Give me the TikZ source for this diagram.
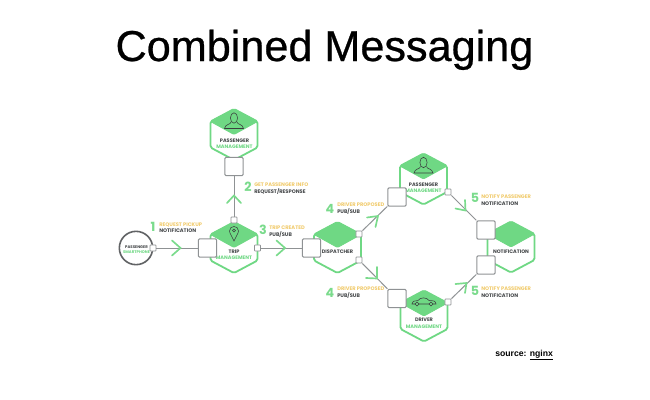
\documentclass[tikz,border=0pt]{standalone}
\usepackage{fontspec}
\setmainfont{Liberation Sans}
\newfontfamily\lblfont{Poppins}[BoldFont=Poppins Bold]
\newfontfamily\titlefont{Liberation Sans}[FakeBold=0.6]
\definecolor{hexgreen}{HTML}{6FD884}
\definecolor{chevgreen}{HTML}{7ADB8C}
\definecolor{lblorange}{HTML}{F1CB6C}
\definecolor{lbldark}{HTML}{45484A}
\definecolor{boxgray}{HTML}{8F9294}
\tikzset{
  x=0.75pt,y=-0.75pt,
  boxnode/.style={draw=boxgray,line width=0.75pt,fill=white,rounded corners=1pt,minimum size=13.8pt,inner sep=0pt},
  portnode/.style={draw=boxgray,line width=0.6pt,fill=white,rounded corners=0.6pt,minimum size=4.6pt,inner sep=0pt},
  link/.style={draw=boxgray,line width=0.75pt},
  chev/.style={draw=chevgreen,line width=1.25pt,line cap=round,line join=miter},
  hexline/.style={draw=hexgreen,line width=1.35pt,fill=white,rounded corners=1.3pt,line join=round},
  hexcap/.style={draw=hexgreen,fill=hexgreen,line width=0.6pt,rounded corners=1pt,line join=round},
  icon/.style={draw=lbldark!85!black,line width=0.4pt},
  orangetxt/.style={text=lblorange,font=\lblfont\bfseries\fontsize{3.85}{4}\selectfont,anchor=west,inner sep=0pt},
  darktxt/.style={text=lbldark,font=\lblfont\bfseries\fontsize{3.85}{4}\selectfont,anchor=west,inner sep=0pt},
  hexname/.style={text=lbldark,font=\lblfont\bfseries\fontsize{3.75}{4}\selectfont,inner sep=0pt},
  hexsub/.style={text=hexgreen,font=\lblfont\bfseries\fontsize{3.75}{4}\selectfont,inner sep=0pt},
  digit/.style={text=chevgreen,font=\lblfont\bfseries\fontsize{9.5}{10}\selectfont,inner sep=0pt},
}
\newcommand{\hexa}[2]{%
  \coordinate (#1) at #2;
  \begin{scope}[shift={(#1)}]
    \path[hexline] (0,-25.5) -- (23.5,-13) -- (23.5,13) -- (0,25.5) -- (-23.5,13) -- (-23.5,-13) -- cycle;
    \path[hexcap] (0,-25.5) -- (23.5,-13) -- (0,0) -- (-23.5,-13) -- cycle;
  \end{scope}}
\newcommand{\personicon}[1]{%
  \begin{scope}[shift={(#1)}]
    \draw[icon] (0,-16.5) ellipse (3.6 and 5.2);
    \draw[icon] (-3,-12.5) .. controls (-3,-10) and (-9,-10.5) .. (-9.5,-6) -- (9.5,-6) .. controls (9,-10.5) and (3,-10) .. (3,-12.5);
  \end{scope}}
\begin{document}
\begin{tikzpicture}
\useasboundingbox[fill=white] (0,0) rectangle (650,400);

\node[anchor=base,inner sep=0pt,font=\titlefont\fontsize{32.4}{36}\selectfont,text=black] (title) at (324.5,61) {Combined Messaging};

% services
\hexa{hexpass}{(234,134.5)}
\personicon{hexpass}
\node[hexname] (passname) at (234.5,141) {PASSENGER};
\node[hexsub] (passsub) at (234.5,147) {MANAGEMENT};

\hexa{hextrip}{(234,247.5)}
\node[hexname] (tripname) at (234,252) {TRIP};
\node[hexsub] (tripsub) at (234,258) {MANAGEMENT};
\begin{scope}[shift={(234,233)}]
  \draw[icon] (0,8) .. controls (-2,3.5) and (-4.5,0) .. (-4.5,-2) .. controls (-4.5,-8) and (4.5,-8) .. (4.5,-2) .. controls (4.5,0) and (2,3.5) .. (0,8) -- cycle;
  \draw[icon] (0,-2.5) circle (1.5);
\end{scope}

\hexa{hexdisp}{(337.5,247.5)}
\node[hexname] (dispname) at (337.5,252) {DISPATCHER};

\hexa{hexpass2}{(423.5,179)}
\personicon{hexpass2}
\node[hexname] (pass2name) at (423.5,184.5) {PASSENGER};
\node[hexsub] (pass2sub) at (423.5,191) {MANAGEMENT};

\hexa{hexdriver}{(424,316)}
\node[hexname] (drivername) at (424,320) {DRIVER};
\node[hexsub] (driversub) at (424,326.5) {MANAGEMENT};
\begin{scope}[shift={(424,301)}]
  \draw[icon] (-12,3) .. controls (-12,0) and (-8,-0.5) .. (-6,-0.5) .. controls (-4,-4) and (3,-4) .. (5,-0.5) .. controls (9,-0.5) and (12,0) .. (12,3) -- cycle;
  \draw[icon,fill=hexgreen] (-7,3) circle (1.9);
  \draw[icon,fill=hexgreen] (7,3) circle (1.9);
\end{scope}

\hexa{hexnotif}{(511,247)}
\node[hexname] (notifname) at (511,252) {NOTIFICATION};

% smartphone
\node[draw=lbldark!85,line width=1.2pt,circle,minimum size=25pt,inner sep=0pt,fill=white] (phone) at (136,248) {};
\node[hexname,font=\lblfont\bfseries\fontsize{2.9}{3}\selectfont] (phonename) at (136.5,247) {PASSENGER};
\node[hexsub,font=\lblfont\bfseries\fontsize{2.9}{3}\selectfont] (phonesub) at (136.5,252.5) {SMARTPHONE};

% boxes
\node[boxnode] (bpass) at (234,166.5) {};
\node[boxnode] (btrip) at (207.5,248) {};
\node[boxnode] (bdisp) at (311.5,248) {};
\node[boxnode] (bpass2) at (397,197) {};
\node[boxnode] (bdriver) at (397,298.5) {};
\node[boxnode] (bnotif1) at (486,230) {};
\node[boxnode] (bnotif2) at (486,265) {};

% ports
\node[portnode] (pphone) at (153,248) {};
\node[portnode] (ptrip1) at (234,220) {};
\node[portnode] (ptrip2) at (257.5,248) {};
\node[portnode] (pdisp1) at (359,234) {};
\node[portnode] (pdisp2) at (359,260) {};
\node[portnode] (ppass2) at (448,192) {};
\node[portnode] (pdriver) at (448,302) {};

% connectors
\draw[link] (pphone) -- (btrip);
\draw[link] (ptrip1) -- (bpass);
\draw[link] (ptrip2) -- (bdisp);
\draw[link] (pdisp1) -- (bpass2);
\draw[link] (pdisp2) -- (bdriver);
\draw[link] (ppass2) -- (bnotif1);
\draw[link] (pdriver) -- (bnotif2);

% chevrons
\draw[chev] (172,240.5) -- (180.5,248) -- (172,255.5);
\draw[chev] (276.5,240.5) -- (285,248) -- (276.5,255.5);
\draw[chev] (227,203) -- (234,195.5) -- (241,203);
\draw[chev] (367,217.5) -- (378,216) -- (375.5,227);
\draw[chev] (377,267) -- (377,278.5) -- (366,278);
\draw[chev] (465,200) -- (465.5,210.5) -- (455.5,208.5);
\draw[chev] (455.5,284) -- (466.5,283) -- (465,293);

% labels
\node[digit] (d1) at (153,227) {1};
\node[orangetxt] (l1a) at (159,224.5) {REQUEST PICKUP};
\node[darktxt] (l1b) at (159,231) {NOTIFICATION};
\node[digit] (d2) at (248,187) {2};
\node[orangetxt] (l2a) at (254,184.8) {GET PASSENGER INFO};
\node[darktxt] (l2b) at (254,191.3) {REQUEST/RESPONSE};
\node[digit] (d3) at (263,230) {3};
\node[orangetxt] (l3a) at (269,228) {TRIP CREATED};
\node[darktxt] (l3b) at (269,234.8) {PUB/SUB};
\node[digit] (d4a) at (330,209) {4};
\node[orangetxt] (l4a) at (337,205) {DRIVER PROPOSED};
\node[darktxt] (l4b) at (337,211.8) {PUB/SUB};
\node[digit] (d4c) at (330,293) {4};
\node[orangetxt] (l4c) at (337,289) {DRIVER PROPOSED};
\node[darktxt] (l4d) at (337,295.8) {PUB/SUB};
\node[digit] (d5a) at (475,197.5) {5};
\node[orangetxt] (l5a) at (481,196.8) {NOTIFY PASSENGER};
\node[darktxt] (l5b) at (481,203.3) {NOTIFICATION};
\node[digit] (d5c) at (475,291) {5};
\node[orangetxt] (l5c) at (481,289) {NOTIFY PASSENGER};
\node[darktxt] (l5d) at (481,295.5) {NOTIFICATION};

\node[anchor=base west,inner sep=0pt,font=\bfseries\fontsize{6.5}{8}\selectfont,text=black] (source) at (495,356) {source: \underline{nginx}};
\end{tikzpicture}
\end{document}
